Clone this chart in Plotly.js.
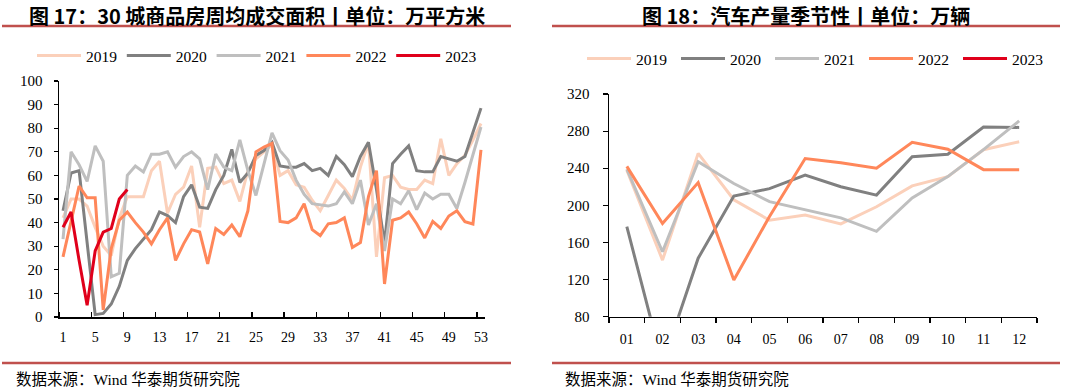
<!DOCTYPE html>
<html><head><meta charset="utf-8">
<script src="https://cdn.plot.ly/plotly-3.0.1.min.js"></script>
<style>html,body{margin:0;padding:0;background:#fff}#chart{width:1080px;height:390px}</style>
</head><body><div id="chart"></div>
<script>
// ---------- Chart 17: weekly transaction area, 30 cities (万平方米) ----------
const weeks = [1,2,3,4,5,6,7,8,9,10,11,12,13,14,15,16,17,18,19,20,21,22,23,24,25,26,27,28,29,30,31,32,33,34,35,36,37,38,39,40,41,42,43,44,45,46,47,48,49,50,51,52,53];
const weekTickVals = [1,5,9,13,17,21,25,29,33,37,41,45,49,53];
const weekTickText = ['1','5','9','13','17','21','25','29','33','37','41','45','49','53'];

const area2019 = [42,50,50,47,38,30,26,42,51,51,51,62,66,44,52,55,64,38,63,63.5,56.5,58,49,62,67,70,73,60,62,56,55,49.5,45,51.5,58,54.5,49.5,63.5,74,25.5,59,60,55,54,54,58,56.5,75.5,60,65,68.5,75,82];
const area2020 = [45,61,62,30,1,1.5,5.5,13,24,29,33,37,44.5,43,40,51,56,46.5,46,54,60,71,57,61,68.5,70.5,74,64,63.5,63.5,65,62,63,60,68,64.5,59.5,68,74,54,31,65,69,72.5,62,61.5,61.5,68,67,66,68,78,88.5];
const area2021 = [33,70,64.5,57.5,72.5,66,17,18.5,60,64,61.5,69,69,70,63.5,68,70,67,54,69,63.5,62,75,62,51.5,65,78,70.5,66.5,58,52,48,47.5,47,48,53,48,58,39,48,28,50,48,53.5,45.5,52.5,50,52,52,46,57,69,80.5];
const area2022 = [25.5,40,55.5,50.5,50.5,3,29,41,44.5,40,36,31,37,42,24,31,37,36,22.5,37.5,35,39,34,45,70,72,73.5,40.5,40,42,48,37,34.5,39.5,40,42,29.5,31.5,51,62,14,41,42,44.5,39.5,33.5,40.5,37.5,42.8,45,40.4,39.4,70.8];
const area2023 = [38,44.5,24,5,28,36,37.5,50,54];

// ---------- Chart 18: car production seasonality (万辆) ----------
const months = [1,2,3,4,5,6,7,8,9,10,11,12];
const monthText = ['01','02','03','04','05','06','07','08','09','10','11','12'];
const car2019 = [238,141,256,206,184,189.5,180,198.5,221,231,260,268.5];
const car2020 = [177,29,143,210,218,232.5,220,211,252.5,255,284.5,284];
const car2021 = [239,150,247,223.5,204,195.5,186.5,172,208,231,260,291];
const car2022 = [242,180.5,224.5,119.5,188,250.5,246,240,268,260.5,238.5,238.5];
// 2023: no values shown in the reference chart (legend entry only)
const car2023 = [null,null,null,null,null,null,null,null,null,null,null,null];

const years = ['2019','2020','2021','2022','2023'];
const colors = ['#FBD0BA','#808080','#BFBFBF','#FF875A','#E0001B'];

const areaSeries = [area2019, area2020, area2021, area2022, area2023];
const carSeries = [car2019, car2020, car2021, car2022, car2023];

const serif = 'Liberation Serif, Times New Roman, serif';
const traces = [];
areaSeries.forEach((ys, i) => {
  traces.push({
    type: 'scatter', mode: 'lines', name: years[i],
    x: weeks.slice(0, ys.length), y: ys,
    xaxis: 'x', yaxis: 'y', legend: 'legend',
    line: {color: colors[i], width: 3}, hoverinfo: 'skip'
  });
});
carSeries.forEach((ys, i) => {
  traces.push({
    type: 'scatter', mode: 'lines', name: years[i],
    x: months.slice(0, ys.length), y: ys,
    xaxis: 'x2', yaxis: 'y2', legend: 'legend2',
    line: {color: colors[i], width: 3}, hoverinfo: 'skip'
  });
});

const W = 1080, H = 390;
const px = v => v / W, py = v => 1 - v / H;
const tickFont = {family: serif, size: 14, color: '#000'};
const yTickFont = {family: serif, size: 15, color: '#000'};
const legendCommon = {
  orientation: 'h', xanchor: 'left', yanchor: 'middle',
  font: {family: serif, size: 15.5, color: '#000'},
  bgcolor: 'rgba(0,0,0,0)', itemclick: false, itemdoubleclick: false,
  tracegroupgap: 0, itemwidth: 44, entrywidthmode: 'pixels'
};

const layout = {
  width: W, height: H, margin: {l: 0, r: 0, t: 0, b: 0, autoexpand: false},
  paper_bgcolor: '#fff', plot_bgcolor: '#fff',
  showlegend: true,
  legend: Object.assign({}, legendCommon, {x: px(32), y: py(56), entrywidth: 30.8}),
  legend2: Object.assign({}, legendCommon, {x: px(582), y: py(59), entrywidth: 35}),
  xaxis: {
    domain: [px(59), px(485)], anchor: 'y', range: [0.5, 53.5],
    tickmode: 'array', tickvals: weekTickVals, ticktext: weekTickText,
    ticks: '', showgrid: false, zeroline: false,
    showline: true, linecolor: '#000', linewidth: 1.5,
    tickfont: tickFont, ticklabelstandoff: 7,
    minor: {tickmode: 'linear', tick0: 0.5, dtick: 4, ticks: 'inside', ticklen: 5, tickcolor: '#000', tickwidth: 1.2, showgrid: false}
  },
  yaxis: {
    domain: [py(317), py(81)], anchor: 'x', range: [0, 100], dtick: 10,
    ticks: 'outside', ticklen: 4, tickcolor: '#000', tickwidth: 1.2,
    showgrid: false, zeroline: false,
    showline: true, linecolor: '#000', linewidth: 1.5,
    tickfont: yTickFont, ticklabelstandoff: 8
  },
  xaxis2: {
    domain: [px(609), px(1037)], anchor: 'y2', range: [0.5, 12.5],
    tickmode: 'array', tickvals: months, ticktext: monthText,
    ticks: '', showgrid: false, zeroline: false,
    showline: true, linecolor: '#000', linewidth: 1.5,
    tickfont: tickFont, ticklabelstandoff: 9,
    minor: {tickmode: 'linear', tick0: 0.5, dtick: 1, ticks: 'outside', ticklen: 5, tickcolor: '#000', tickwidth: 1.2, showgrid: false}
  },
  yaxis2: {
    domain: [py(316.7), py(94)], anchor: 'x2', range: [80, 320], dtick: 40,
    ticks: 'outside', ticklen: 5, tickcolor: '#000', tickwidth: 1.2,
    showgrid: false, zeroline: false,
    showline: true, linecolor: '#000', linewidth: 1.5,
    tickfont: yTickFont, ticklabelstandoff: 10
  },
  shapes: [
    {type: 'line', xref: 'paper', yref: 'paper', x0: px(2), x1: px(511), y0: py(26), y1: py(26), line: {color: '#C0504D', width: 2.5}},
    {type: 'line', xref: 'paper', yref: 'paper', x0: px(552), x1: px(1060), y0: py(26), y1: py(26), line: {color: '#C0504D', width: 2.5}},
    {type: 'line', xref: 'paper', yref: 'paper', x0: px(2), x1: px(511), y0: py(363), y1: py(363), line: {color: '#C0504D', width: 2.5}},
    {type: 'line', xref: 'paper', yref: 'paper', x0: px(552), x1: px(1060), y0: py(363), y1: py(363), line: {color: '#C0504D', width: 2.5}}
  ],
  annotations: [
    {xref: 'paper', yref: 'paper', x: px(257), y: py(0), xanchor: 'center', yanchor: 'top', showarrow: false, borderpad: 0,
     text: '<b>图 17：30 城商品房周均成交面积丨单位：万平方米</b>',
     font: {family: 'Noto Sans CJK SC, sans-serif', size: 20, color: '#000'}},
    {xref: 'paper', yref: 'paper', x: px(806), y: py(0), xanchor: 'center', yanchor: 'top', showarrow: false, borderpad: 0,
     text: '<b>图 18：汽车产量季节性丨单位：万辆</b>',
     font: {family: 'Noto Sans CJK SC, sans-serif', size: 20, color: '#000'}},
    {xref: 'paper', yref: 'paper', x: px(14), y: py(379), xanchor: 'left', yanchor: 'middle', showarrow: false,
     text: '数据来源：Wind 华泰期货研究院',
     font: {family: 'Liberation Serif, Noto Sans CJK SC, serif', size: 15.5, color: '#000'}},
    {xref: 'paper', yref: 'paper', x: px(563), y: py(379), xanchor: 'left', yanchor: 'middle', showarrow: false,
     text: '数据来源：Wind 华泰期货研究院',
     font: {family: 'Liberation Serif, Noto Sans CJK SC, serif', size: 15.5, color: '#000'}}
  ]
};

Plotly.newPlot('chart', traces, layout, {staticPlot: true, displayModeBar: false});
</script>
</body></html>
